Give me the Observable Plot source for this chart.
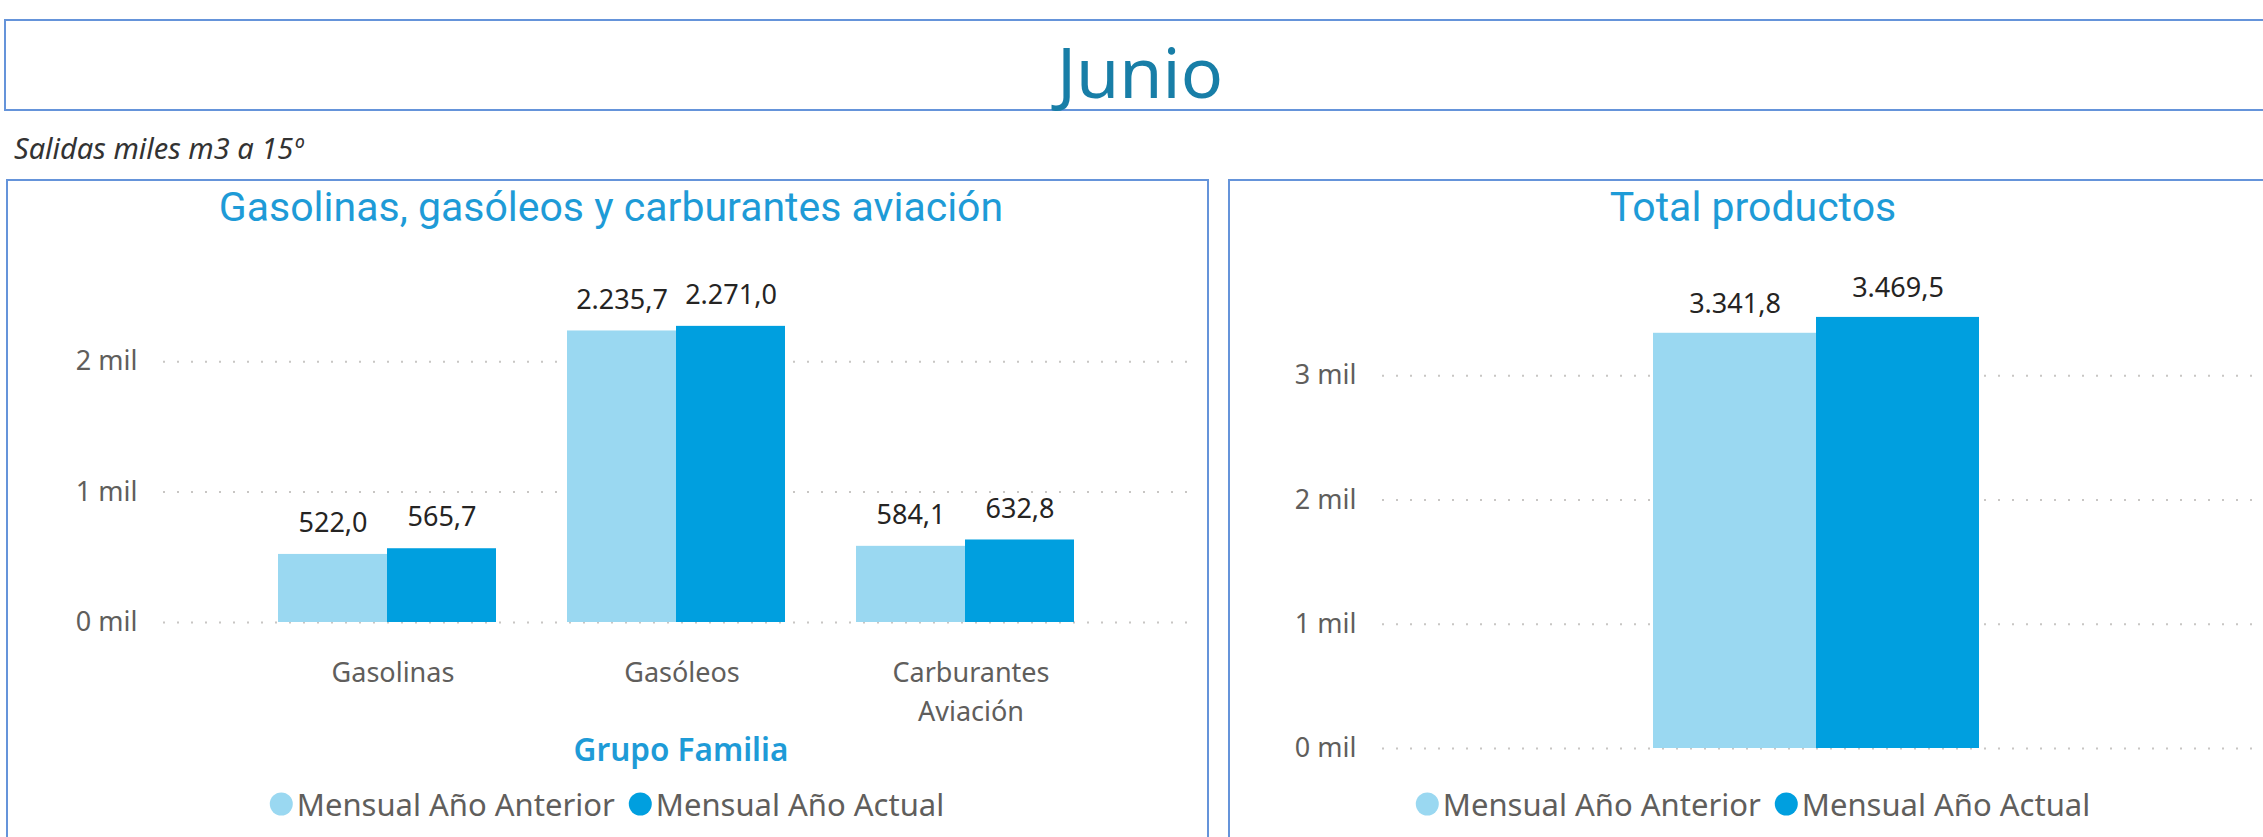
<!DOCTYPE html>
<html>
<head>
<meta charset="utf-8">
<script src="https://cdn.jsdelivr.net/npm/d3@7"></script>
<script src="https://cdn.jsdelivr.net/npm/@observablehq/plot@0.6"></script>
<style>
  html, body { margin: 0; padding: 0; }
  body { width: 2263px; height: 837px; overflow: hidden; position: relative; background: #fff; font-family: "Noto Sans", sans-serif; }
  .abs { position: absolute; }
  .box { position: absolute; box-sizing: border-box; border: 2px solid #6594da; }
  .ctr { position: absolute; transform: translate(-50%, -50%); white-space: nowrap; line-height: 1; }
  .ptitle { font-family: "Roboto", sans-serif; font-weight: 400; font-size: 41px; color: #1e9bd7; }
  .legend { display: flex; align-items: center; font-size: 31px; color: #605e5c; }
  .legend .item { display: flex; align-items: center; margin-right: 14px; }
  .legend .item:last-child { margin-right: 0; }
  .legend .dot { width: 23px; height: 23px; border-radius: 50%; margin-right: 4px; display: inline-block; }
  .plotwrap { position: absolute; }
  .plotwrap svg { max-width: none !important; }
</style>
</head>
<body>
<div class="box" style="left:4px; top:19px; width:2272px; height:92px;"></div>
<div class="ctr" style="left:1140px; top:71px; font-size:70px; color:#187ea7;">Junio</div>
<div class="abs" style="left:14px; top:133px; font-size:29px; font-style:italic; color:#333; line-height:1;">Salidas miles m3 a 15º</div>

<div class="box" style="left:6px; top:179px; width:1203px; height:700px;"></div>
<div class="box" style="left:1228px; top:179px; width:1050px; height:700px;"></div>

<div id="leftBg" class="plotwrap" style="left:6px; top:179px; width:1203px;"></div>
<div id="leftBars" class="plotwrap" style="left:6px; top:179px; width:1203px;"></div>
<div id="rightPlot" class="plotwrap" style="left:1228px; top:179px; width:1050px;"></div>

<div class="ctr ptitle" style="left:611px; top:207px;">Gasolinas, gasóleos y carburantes aviación</div>
<div class="ctr ptitle" style="left:1753px; top:207px;">Total productos</div>
<div class="ctr" style="left:681px; top:749px; font-size:31.5px; font-weight:600; color:#1e9bd7;">Grupo Familia</div>
<div id="legendL" class="ctr legend" style="left:607px; top:804px;"></div>
<div id="legendR" class="ctr legend" style="left:1753px; top:804px;"></div>

<script>
// ---- data ----
const categories = ["Gasolinas", "Gasóleos", "Carburantes Aviación"];
const series = ["Mensual Año Anterior", "Mensual Año Actual"];
const prevYear = [522.0, 2235.7, 584.1];
const currYear = [565.7, 2271.0, 632.8];
const totalValues = [3341.8, 3469.5];
const leftTicks = [0, 1000, 2000];
const rightTicks = [0, 1000, 2000, 3000];
const colors = ["#9ad8f1", "#009fdf"];

// ---- derived tables ----
const rows = categories.flatMap((c, i) => [
  {cat: c, series: series[0], value: prevYear[i]},
  {cat: c, series: series[1], value: currYear[i]}
]);
const totals = series.map((s, i) => ({series: s, value: totalValues[i]}));

const es = d3.formatLocale({decimal: ",", thousands: ".", grouping: [3], currency: ["", "€"]}).format(",.1f");
const milFmt = d => `${d / 1000} mil`;
const gray = "#605e5c";
const font = "'Noto Sans', sans-serif";

// ---- left chart: background (grid + axes) ----
const W = 1203, H = 560, mL = 157, mR = 11, mT = 117, mB = 117;
const bandOpts = {domain: categories, paddingInner: 0.242, paddingOuter: 0.41, align: 0.479};

const leftBg = Plot.plot({
  width: W, height: H, marginLeft: mL, marginRight: mR, marginTop: mT, marginBottom: mB,
  style: {background: "transparent", fontFamily: font, fontSize: "27px", color: gray},
  x: {type: "band", ...bandOpts},
  y: {domain: [0, 2500]},
  marks: [
    Plot.gridY(leftTicks, {stroke: "#c8c6c4", strokeOpacity: 1, strokeWidth: 2, strokeDasharray: "2,12"}),
    Plot.axisY(leftTicks, {tickFormat: milFmt, tickSize: 0, tickPadding: 26, fontSize: 27, fill: gray, label: null}),
    Plot.axisX({tickSize: 0, tickPadding: 32, dx: 6, tickFormat: d => d.replace(" ", "\n"), lineHeight: 1.44, fontSize: 27, fill: gray, label: null})
  ]
});
document.getElementById("leftBg").appendChild(leftBg);

// ---- left chart: grouped bars ----
const leftBars = Plot.plot({
  width: W, height: H, marginLeft: mL, marginRight: mR, marginTop: mT, marginBottom: mB,
  style: {background: "transparent", fontFamily: font, fontSize: "27px"},
  facet: {data: rows, x: "cat", marginTop: 0, marginBottom: 0, marginLeft: 0, marginRight: 0},
  fx: {...bandOpts, axis: null, label: null},
  x: {domain: series, padding: 0, axis: null},
  y: {domain: [0, 2500], axis: null},
  color: {domain: series, range: colors},
  marks: [
    Plot.barY(rows, {x: "series", y: "value", fill: "series"}),
    Plot.text(rows, {x: "series", y: "value", text: d => es(d.value), dy: -31, fontSize: 27, fill: "#252423"})
  ]
});
document.getElementById("leftBars").appendChild(leftBars);

// ---- right chart ----
const rightPlot = Plot.plot({
  width: 1050, height: 590, marginLeft: 154, marginRight: 11, marginTop: 72, marginBottom: 21,
  style: {background: "transparent", fontFamily: font, fontSize: "27px", color: gray},
  x: {domain: series, paddingInner: 0, paddingOuter: 1.706, align: 0.484, axis: null},
  y: {domain: [0, 4000]},
  color: {domain: series, range: colors},
  marks: [
    Plot.gridY(rightTicks, {stroke: "#c8c6c4", strokeOpacity: 1, strokeWidth: 2, strokeDasharray: "2,12"}),
    Plot.axisY(rightTicks, {tickFormat: milFmt, tickSize: 0, tickPadding: 26, fontSize: 27, fill: gray, label: null}),
    Plot.barY(totals, {x: "series", y: "value", fill: "series"}),
    Plot.text(totals, {x: "series", y: "value", text: d => es(d.value), dy: -29, fontSize: 27, fill: "#252423"})
  ]
});
document.getElementById("rightPlot").appendChild(rightPlot);

// ---- legends ----
function buildLegend(id) {
  const el = document.getElementById(id);
  series.forEach((s, i) => {
    const item = document.createElement("span");
    item.className = "item";
    const dot = document.createElement("span");
    dot.className = "dot";
    dot.style.background = colors[i];
    const txt = document.createElement("span");
    txt.textContent = s;
    item.appendChild(dot); item.appendChild(txt);
    el.appendChild(item);
  });
}
buildLegend("legendL");
buildLegend("legendR");
</script>
</body>
</html>
